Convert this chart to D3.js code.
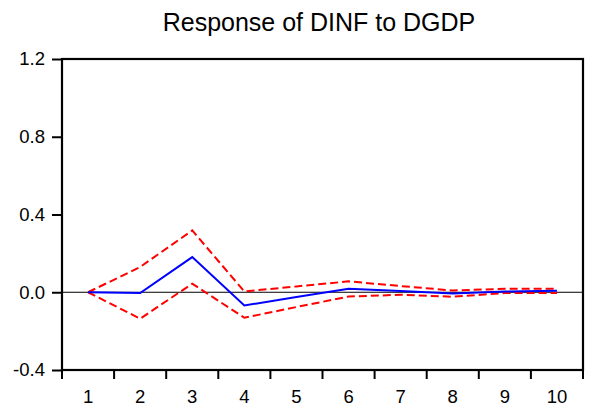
<!DOCTYPE html>
<html>
<head>
<meta charset="utf-8">
<script src="https://cdn.jsdelivr.net/npm/d3@7/dist/d3.min.js"></script>
<style>
  html, body { margin: 0; padding: 0; background: #ffffff; }
  svg { display: block; font-family: "Liberation Sans", Arial, sans-serif; }
</style>
</head>
<body>
<script>
// Impulse response of DINF to a DGDP shock, with ±2 S.E. bands
const periods = [1, 2, 3, 4, 5, 6, 7, 8, 9, 10];
const response = [0.0, -0.004, 0.181, -0.068, -0.025, 0.018, 0.006, -0.006, 0.004, 0.008];
const upperBand = [0.0, 0.13, 0.318, 0.004, 0.03, 0.056, 0.032, 0.009, 0.018, 0.018];
const lowerBand = [0.0, -0.136, 0.044, -0.131, -0.076, -0.022, -0.013, -0.023, -0.004, -0.004];
const yTicks = [-0.4, 0.0, 0.4, 0.8, 1.2];
const title = "Response of DINF to DGDP";

const W = 594, H = 410;
const plotL = 62, plotR = 583, plotT = 59, plotB = 370;

const svg = d3.select("body").append("svg").attr("width", W).attr("height", H);

const x = d3.scaleBand().domain(periods).range([plotL, plotR]).padding(0);
const y = d3.scaleLinear().domain([-0.4, 1.2]).range([plotB, plotT]);
const cx = d => x(d) + x.bandwidth() / 2;

// title
svg.append("text")
  .attr("x", 319).attr("y", 31)
  .attr("text-anchor", "middle")
  .attr("font-size", 25)
  .attr("fill", "#000")
  .text(title);

// zero reference line
svg.append("line")
  .attr("x1", plotL).attr("x2", plotR)
  .attr("y1", y(0)).attr("y2", y(0))
  .attr("stroke", "#000").attr("stroke-width", 1);

// series
const line = d3.line().x((d, i) => cx(periods[i])).y(d => y(d));
svg.append("path").datum(upperBand).attr("d", line)
  .attr("fill", "none").attr("stroke", "#ff0000").attr("stroke-width", 2)
  .attr("stroke-dasharray", "8,4");
svg.append("path").datum(lowerBand).attr("d", line)
  .attr("fill", "none").attr("stroke", "#ff0000").attr("stroke-width", 2)
  .attr("stroke-dasharray", "8,4");
svg.append("path").datum(response).attr("d", line)
  .attr("fill", "none").attr("stroke", "#0000ff").attr("stroke-width", 2);

// frame
svg.append("rect")
  .attr("x", plotL).attr("y", plotT)
  .attr("width", plotR - plotL).attr("height", plotB - plotT)
  .attr("fill", "none").attr("stroke", "#000").attr("stroke-width", 2.2);

// y axis
const yAxis = d3.axisLeft(y).tickValues(yTicks).tickSize(10).tickPadding(7)
  .tickFormat(d => d.toFixed(1));
const gy = svg.append("g").attr("transform", `translate(${plotL},0)`).call(yAxis);
gy.select(".domain").remove();
gy.selectAll("line").attr("stroke", "#000").attr("stroke-width", 2);
gy.selectAll("text").attr("font-size", 18.5).attr("fill", "#000")
  .attr("font-family", "'Liberation Sans', Arial, sans-serif");

// x axis: ticks on period boundaries, labels centred in each period
const bounds = periods.map(p => x(p)).concat([x.range()[1]]);
svg.append("g").selectAll("line").data(bounds).join("line")
  .attr("x1", d => d).attr("x2", d => d)
  .attr("y1", plotB).attr("y2", plotB + 9)
  .attr("stroke", "#000").attr("stroke-width", 2);
svg.append("g").selectAll("text").data(periods).join("text")
  .attr("x", d => cx(d)).attr("y", 403)
  .attr("text-anchor", "middle")
  .attr("font-size", 18.5).attr("fill", "#000")
  .text(d => d);
</script>
</body>
</html>
